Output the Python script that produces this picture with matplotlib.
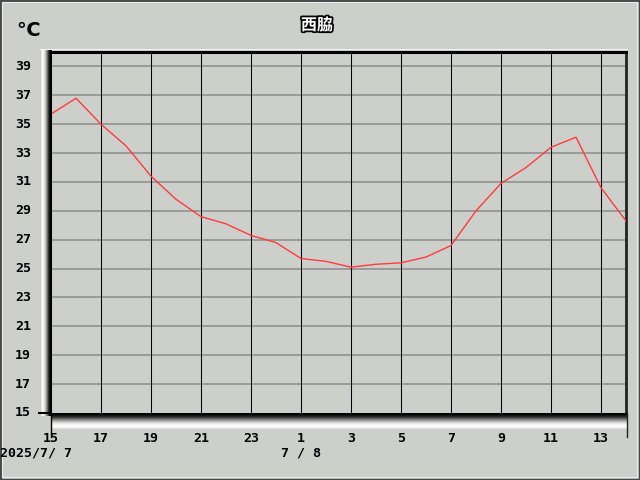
import numpy as np
import matplotlib
matplotlib.use("Agg")
import matplotlib.pyplot as plt
import matplotlib.patheffects as pe
from matplotlib.patches import Rectangle

plt.rcParams['font.family'] = ['DejaVu Sans', 'Noto Sans CJK JP']

# hourly readings, 2025/7/7 15:00 -> 2025/7/8 14:00
hours = [15, 16, 17, 18, 19, 20, 21, 22, 23, 0, 1, 2,
         3, 4, 5, 6, 7, 8, 9, 10, 11, 12, 13, 14]
temps = [35.7, 36.8, 35.0, 33.5, 31.4, 29.8, 28.6, 28.1, 27.3, 26.8, 25.7, 25.5,
         25.1, 25.3, 25.4, 25.8, 26.6, 29.0, 30.9, 32.0, 33.4, 34.1, 30.6, 28.3]
yticks = [15, 17, 19, 21, 23, 25, 27, 29, 31, 33, 35, 37, 39]
date_labels = {0: "2025/7/ 7", 10: "7 / 8"}
station = "西脇"

W, H = 640, 480
bg = "#cdcfcb"

def fx(px):
    return px / W

def fy(py):
    return 1 - py / H

fig = plt.figure(figsize=(6.4, 4.8), dpi=100, facecolor=bg)

# outer frame
fig.patches.append(Rectangle((0, 0), 1, 1, transform=fig.transFigure, fill=False,
                             edgecolor="#4a4a4a", linewidth=2.5))
fig.patches.append(Rectangle((fx(2), fy(477)), fx(635), fy(2) - fy(477),
                             transform=fig.transFigure, fill=False,
                             edgecolor="#eeeeee", linewidth=0.8))

x = np.arange(len(hours))
ax = fig.add_axes([fx(51), fy(413), fx(626 - 51), fy(52) - fy(413)])
ax.set_facecolor(bg)
ax.set_xlim(0, len(hours) - 1)
ax.set_ylim(15, 40)
for yv in yticks[1:]:
    ax.axhline(yv, color="#9a9a9a", linewidth=1.4, zorder=1)
for xi in x[::2]:
    ax.axvline(xi, color="black", linewidth=0.75, zorder=1)
ax.plot(x, temps, color="#ff3b3b", linewidth=1.0, zorder=3)
ax.set_xticks([])
ax.set_yticks([])
for s in ["left", "bottom"]:
    ax.spines[s].set_visible(False)
ax.spines["top"].set_linewidth(2.2)
ax.spines["right"].set_linewidth(2.0)
ax.spines["right"].set_color("#222222")
fig.add_artist(plt.Line2D([fx(40), fx(627)], [fy(49), fy(49)], color="#f2f2f2", linewidth=0.8))

# left bevel
lb = fig.add_axes([fx(40), fy(416), fx(12), fy(50) - fy(416)])
grad = np.array([0.80, 0.92, 0.97, 0.95, 0.88, 0.76, 0.60, 0.42, 0.22, 0.08, 0.0, 0.0])
lb.imshow(grad[None, :], cmap="gray", vmin=0, vmax=1, aspect="auto",
          extent=[0, 1, 0, 1], interpolation="bilinear")
lb.axis("off")

# bottom bevel
bb = fig.add_axes([fx(51), fy(431), fx(576), fy(413) - fy(431)])
gradb = np.array([0.0, 0.02, 0.08, 0.15, 0.25, 0.38, 0.50, 0.62, 0.73, 0.83, 0.90,
                  0.95, 0.98, 0.98, 0.95, 0.88, 0.82, 0.80])
bb.imshow(gradb[:, None], cmap="gray", vmin=0, vmax=1, aspect="auto",
          extent=[0, 1, 0, 1], interpolation="bilinear")
bb.axis("off")
fig.add_artist(plt.Line2D([fx(51), fx(51)], [fy(413), fy(437)], color="black", linewidth=1.0))
fig.add_artist(plt.Line2D([fx(627), fx(627)], [fy(413), fy(437)], color="#222222", linewidth=1.0))
fig.add_artist(plt.Line2D([fx(39), fx(51)], [fy(413), fy(413)], color="black", linewidth=1.5))

mono = dict(family="DejaVu Sans Mono", fontweight="bold", fontsize=9.5, color="black")

# y tick labels
for yv in yticks:
    py = ax.transData.transform((0, yv))[1]
    fig.text(fx(31), py / H, str(yv), ha="right", va="center", **mono)

# x tick labels
for xi in x[::2]:
    px = ax.transData.transform((xi, 0))[0]
    fig.text(px / W, fy(438), str(hours[xi]), ha="center", va="center", **mono)
    if xi in date_labels:
        ha = "left" if xi == 0 else "center"
        xpos = fx(0) if xi == 0 else px / W
        fig.text(xpos, fy(453), date_labels[xi], ha=ha, va="center", **mono)

fig.text(fx(28), fy(30), "℃", ha="center", va="center", fontsize=14, fontweight="bold")
fig.text(fx(317), fy(25), station, ha="center", va="center", fontsize=11.5,
         fontweight="bold", color="white", family=["Noto Sans CJK JP", "DejaVu Sans"],
         path_effects=[pe.withStroke(linewidth=2.5, foreground="black")])

fig.savefig("out.png", dpi=100, facecolor=bg)
